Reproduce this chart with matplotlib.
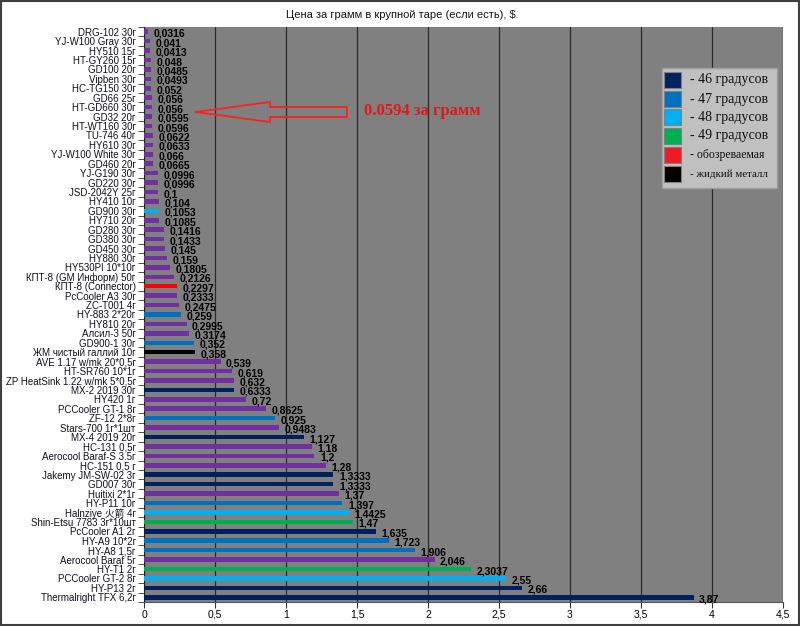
import matplotlib
matplotlib.use("Agg")
import matplotlib.pyplot as plt
from matplotlib.patches import Rectangle, Polygon
from matplotlib.ticker import FuncFormatter, FixedLocator

plt.rcParams['font.family'] = ['Liberation Sans', 'Noto Sans CJK SC', 'DejaVu Sans']

names = [
    "DRG-102 30г", "YJ-W100 Gray 30г", "HY510 15г", "HT-GY260 15г", "GD100 20г",
    "Vipben 30г", "HC-TG150 30г", "GD66 25г", "HT-GD660 30г", "GD32 20г",
    "HT-WT160 30г", "TU-746 40г", "HY610 30г", "YJ-W100 White 30г", "GD460 20г",
    "YJ-G190 30г", "GD220 30г", "JSD-2042Y 25г", "HY410 10г", "GD900 30г",
    "HY710 20г", "GD280 30г", "GD380 30г", "GD450 30г", "HY880 30г",
    "HY530PI 10*10г", "КПТ-8 (GM Информ) 50г", "КПТ-8 (Connector)", "PcCooler A3 30г", "ZC-T001 4г",
    "HY-883 2*20г", "HY810 20г", "Алсил-3 50г", "GD900-1 30г", "ЖМ чистый галлий 10г",
    "AVE 1.17 w/mk 20*0,5г", "HT-SR760 10*1г", "ZP HeatSink 1.22 w/mk 5*0,5г", "MX-2 2019 30г", "HY420 1г",
    "PCCooler GT-1 8г", "ZF-12 2*8г", "Stars-700 1г*1шт", "MX-4 2019 20г", "HC-131 0,5г",
    "Aerocool Baraf-S 3.5г", "HC-151 0,5 г", "Jakemy JM-SW-02 3г", "GD007 30г", "Huitixi 2*1г",
    "HY-P11 10г", "Halnziye 火箭 4г", "Shin-Etsu 7783 3г*10шт", "PcCooler A1 2г", "HY-A9 10*2г",
    "HY-A8 1,5г", "Aerocool Baraf 5г", "HY-T1 2г", "PCCooler GT-2 8г", "HY-P13 2г",
    "Thermalright TFX 6,2г",
]
values = [
    0.0316, 0.041, 0.0413, 0.048, 0.0485,
    0.0493, 0.052, 0.056, 0.056, 0.0595,
    0.0596, 0.0622, 0.0633, 0.066, 0.0665,
    0.0996, 0.0996, 0.1, 0.104, 0.1053,
    0.1085, 0.1416, 0.1433, 0.145, 0.159,
    0.1805, 0.2126, 0.2297, 0.2333, 0.2475,
    0.259, 0.2995, 0.3174, 0.352, 0.358,
    0.539, 0.619, 0.632, 0.6333, 0.72,
    0.8625, 0.925, 0.9483, 1.127, 1.18,
    1.2, 1.28, 1.3333, 1.3333, 1.37,
    1.397, 1.4425, 1.47, 1.635, 1.723,
    1.906, 2.046, 2.3037, 2.55, 2.66,
    3.87,
]
# group: p = not classified, 46/47/48/49 = degrees, r = reviewed, k = liquid metal
groups = [
    "p", "p", "p", "p", "p",
    "p", "p", "p", "p", "p",
    "p", "p", "p", "p", "p",
    "p", "p", "p", "p", "48",
    "p", "p", "p", "p", "p",
    "p", "p", "r", "p", "p",
    "47", "p", "p", "47", "k",
    "p", "p", "p", "46", "p",
    "p", "47", "p", "46", "p",
    "p", "p", "46", "46", "p",
    "47", "48", "49", "46", "47",
    "47", "p", "49", "48", "46",
    "46",
]
legend_labels = ["- 46 градусов", "- 47 градусов", "- 48 градусов", "- 49 градусов",
                 "- обозреваемая", "- жидкий металл"]
legend_groups = ["46", "47", "48", "49", "r", "k"]
xticks = [0, 0.5, 1, 1.5, 2, 2.5, 3, 3.5, 4, 4.5]
title = "Цена за грамм в крупной таре (если есть), $."
annotation = "0.0594 за грамм"

bar_colors = {"p": "#7030A0", "46": "#002060", "47": "#0070C0", "48": "#00B0F0",
              "49": "#00B050", "r": "#FF0000", "k": "#000000"}
legend_colors = {"46": "#002060", "47": "#0070C0", "48": "#00B0F0",
                 "49": "#00B050", "r": "#ED1C24", "k": "#000000"}

W, H = 800, 626
fig = plt.figure(figsize=(W / 100, H / 100), dpi=100)
fig.patch.set_facecolor("white")

def fx(px):
    return px / W

def fy(py):
    return 1 - py / H

ax = fig.add_axes([fx(144), fy(602), fx(783) - fx(144), fy(27) - fy(602)])
ax.set_facecolor("#808080")

ypos = list(range(len(names)))
ax.barh(ypos, values, height=0.48, color=[bar_colors[g] for g in groups], zorder=3)

for y, v in zip(ypos, values):
    ax.annotate(f"{v:g}".replace(".", ","), xy=(v, y), xytext=(4, -1.5),
                textcoords="offset points", ha="left", va="center",
                fontsize=7.5, fontweight="bold", color="black", zorder=4)

ax.set_xlim(0, 4.5)
ax.set_ylim(len(names) - 0.5, -0.5)
ax.set_xticks(xticks)
ax.xaxis.set_major_formatter(FuncFormatter(lambda x, p: f"{x:g}".replace(".", ",")))
ax.tick_params(axis="x", labelsize=7.5, length=4, direction="out", color="#333333", pad=1.5)
ax.grid(axis="x", color="#2a2a2a", linewidth=0.9, zorder=1)

ax.set_yticks(ypos)
ax.set_yticklabels(names, fontsize=7, color="#101020")
ax.tick_params(axis="y", which="major", length=0, pad=6)
ax.yaxis.set_minor_locator(FixedLocator([i - 0.5 for i in range(len(names) + 1)]))
ax.tick_params(axis="y", which="minor", length=4, direction="out", color="#333333")

for s in ["top", "right"]:
    ax.spines[s].set_visible(False)
ax.spines["left"].set_color("#222222")
ax.spines["bottom"].set_color("#555555")

fig.text(fx(402), fy(15), title, ha="center", va="center", fontsize=8, color="#111111")

# red outlined arrow and note
arrow_px = [(195, 112), (270, 102), (270, 107), (347, 107), (347, 117), (270, 117), (270, 122)]
fig.patches.append(Polygon([(fx(a), fy(b)) for a, b in arrow_px], closed=True,
                           transform=fig.transFigure, facecolor="none",
                           edgecolor="#FF2020", linewidth=1.3, zorder=5))
fig.text(fx(364), fy(111), annotation, ha="left", va="center", fontsize=12,
         fontweight="bold", color="#E01818", family="Liberation Serif", zorder=6)

# custom legend box
fig.patches.append(Rectangle((fx(662), fy(188)), fx(777) - fx(662), fy(68) - fy(188),
                             transform=fig.transFigure, facecolor="#C0C0C0",
                             edgecolor="#A0A0A0", linewidth=1, zorder=5))
row_y = [80, 99, 117, 136, 155, 174]
sizes = [10, 10, 10, 10, 8.5, 7.8]
for lab, g, ry, sz in zip(legend_labels, legend_groups, row_y, sizes):
    fig.patches.append(Rectangle((fx(664), fy(ry + 8)), fx(17), 16 / H,
                                 transform=fig.transFigure, facecolor=legend_colors[g],
                                 edgecolor="#808080", linewidth=0.8, zorder=6))
    fig.text(fx(690), fy(ry), lab, ha="left", va="center", fontsize=sz,
             family="Liberation Serif", color="#111111", zorder=7)

# figure border
fig.patches.append(Rectangle((0.001, 0.001), 0.998, 0.997, transform=fig.transFigure,
                             facecolor="none", edgecolor="#404040", linewidth=1.5, zorder=10))

fig.savefig("out.png", dpi=100)
